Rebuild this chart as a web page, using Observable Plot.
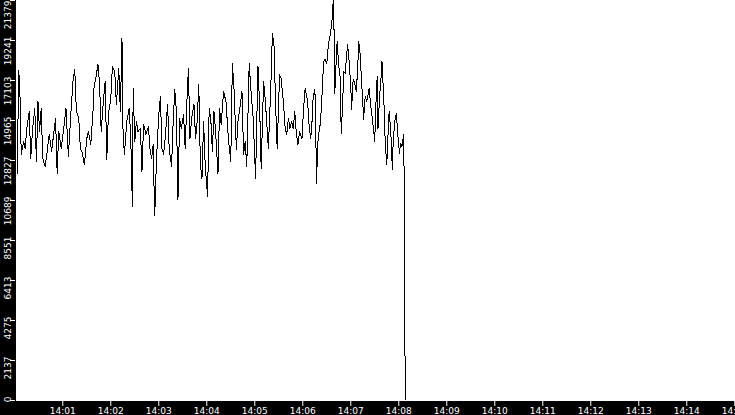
<!DOCTYPE html>
<html>
<head>
<meta charset="utf-8">
<script src="https://cdn.jsdelivr.net/npm/d3@7"></script>
<script src="https://cdn.jsdelivr.net/npm/@observablehq/plot@0.6"></script>
<style>
  html, body { margin: 0; padding: 0; background: #000; overflow: hidden; }
  #chart { width: 735px; height: 415px; overflow: hidden; }
  #chart svg { display: block; }
</style>
</head>
<body>
<div id="chart"></div>
<script>
// Start of the time axis (hh:mm:ss)
const startTime = "14:00:00";

// Seconds after 14:00:00 for each sample
const secs = [
  3,5,7,8,11,13,15,18,20,22,
  25,27,29,31,33,35,38,40,43,46,
  49,51,53,55,58,61,64,67,70,73,
  75,77,80,82,84,87,90,92,95,98,
  99,102,104,106,108,111,113,115,117,120,
  122,125,127,130,132,134,135,137,140,143,
  145,147,148,150,152,154,157,159,161,164,
  167,169,171,173,174,175,177,180,182,184,
  186,188,191,193,196,198,200,202,204,206,
  208,211,213,215,217,219,221,224,226,228,
  230,232,234,236,238,241,243,245,247,249,
  251,254,256,258,261,264,267,270,272,274,
  277,279,282,284,286,288,290,293,295,298,
  301,304,306,308,311,313,317,320,322,324,
  326,328,331,333,336,338,340,342,344,346,
  348,350,352,354,356,359,361,363,366,368,
  370,372,373,375,376,377,379,381,382,384,
  386,388,390,392,395,397,398,399,400,402,
  403,405,407,408,410,411,413,416,418,420,
  421,423,425,427,429,430,432,433,435,436,
  438,440,443,445,447,448,450,451,453,454,
  456,458,459,460,461,463,465,467,468,470,
  472,473,475,477,479,481,482,484,486,487,
  488
];

// Sample values
const values = [
  12130,17640,15820,13150,13840,13470,14540,15450,12930,14380,
  15610,12770,15980,14380,15610,12930,12510,13150,14220,13310,
  14380,15070,12130,14380,13470,14480,15610,13040,15290,17210,
  17690,15450,15070,13470,13310,12610,14000,14380,13680,15610,
  16680,17420,17960,16890,14380,16140,17050,12880,15290,16140,
  17850,17580,15820,17750,15450,19350,14750,13150,14910,15610,
  14000,10370,16680,13840,14910,14380,14540,12240,14750,14220,
  14640,13470,12930,13680,11550,9890,12770,15290,16250,13470,
  13150,14000,15820,13470,12510,14910,16620,15450,10740,15070,
  14540,15290,13470,15820,17750,14000,15070,15820,14000,14910,
  16890,12610,11870,14910,12610,10900,15610,15070,13310,15450,
  14380,12130,15610,14750,16520,15980,14000,12770,18010,16680,
  13420,14910,15820,16520,13150,13840,12510,18010,16680,15070,
  11870,17850,15820,12400,17050,16140,13470,16680,19620,19030,
  15820,13470,17420,17210,15820,14540,14220,15070,14540,14910,
  14540,15450,14220,13680,14380,14000,15610,16680,15980,14640,
  14000,15180,16250,16620,15710,11600,13840,14640,14750,16250,
  18120,18230,18010,19030,19720,20520,21380,19990,16410,18390,
  19190,17850,17160,14270,15980,17580,17480,19030,18120,16780,
  15550,17160,16940,16520,18120,19190,18390,17420,15980,15020,
  16250,15980,16680,15710,15070,14640,13840,15450,17320,14540,
  16250,17320,18120,17160,16520,13840,12610,14640,15450,14380,
  12350,13840,14910,15340,14110,13200,13740,13580,14220,11010,
  0
];

// Axis tick values / labels
const yTicks = [0, 2137, 4275, 6413, 8551, 10689, 12827, 14965, 17103, 19241, 21379];
const xTickLabels = ["14:01","14:02","14:03","14:04","14:05","14:06","14:07","14:08",
                     "14:09","14:10","14:11","14:12","14:13","14:14","14:15"];

const toDate = (hms, extraSec = 0) => {
  const [h, m, s] = hms.split(":").map(Number);
  return new Date(Date.UTC(2000, 0, 1, h, m, (s || 0)) + extraSec * 1000);
};

const data = secs.map((s, i) => ({ time: toDate(startTime, s), value: values[i] }));
const xTicks = xTickLabels.map(l => toDate(l));
const yMax = yTicks[yTicks.length - 1];

const labelStyle = {
  y: d => d,
  text: d => String(d),
  frameAnchor: "left",
  dx: -5,
  rotate: -90,
  textAnchor: "end",
  lineAnchor: "bottom",
  fill: "white",
  fontSize: 9
};

const chart = Plot.plot({
  width: 735,
  height: 415,
  marginLeft: 15,
  marginRight: 0,
  marginTop: 0,
  marginBottom: 15,
  style: {
    background: "black",
    color: "white",
    fontFamily: "DejaVu Sans",
    fontSize: "9px",
    overflow: "visible"
  },
  x: {
    type: "utc",
    domain: [toDate(startTime, 0.9), toDate(startTime, 900.9)],
    ticks: xTicks,
    tickFormat: d3.utcFormat("%H:%M"),
    tickSize: 6,
    tickPadding: 1,
    label: null
  },
  y: {
    domain: [0, yMax],
    ticks: yTicks,
    tickSize: 5,
    tickPadding: 0,
    tickFormat: () => "",
    label: null
  },
  marks: [
    Plot.frame({ fill: "white", stroke: null, insetTop: -3, shapeRendering: "crispEdges" }),
    Plot.line(data, {
      x: "time", y: "value",
      stroke: "black", strokeWidth: 1,
      shapeRendering: "crispEdges",
      clip: true
    }),
    Plot.text(yTicks.filter(d => d !== yMax), { ...labelStyle, dy: -4 }),
    Plot.text([yMax], { ...labelStyle, dy: 0 })
  ]
});

document.getElementById("chart").appendChild(chart);
</script>
</body>
</html>
